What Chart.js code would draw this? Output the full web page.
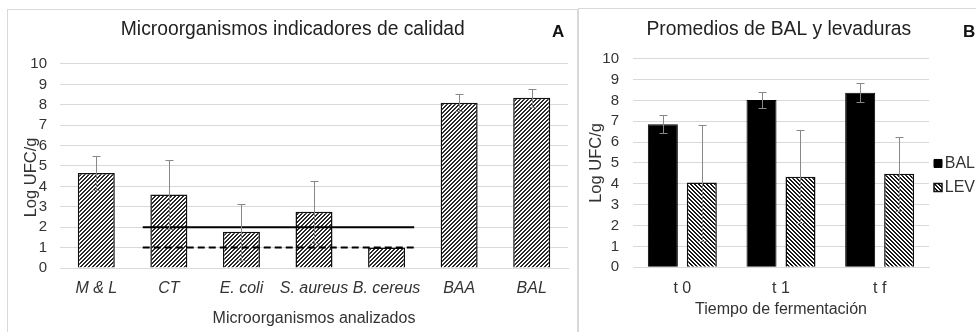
<!DOCTYPE html>
<html>
<head>
<meta charset="utf-8">
<script src="https://cdn.jsdelivr.net/npm/chart.js@4.4.0/dist/chart.umd.min.js"></script>
<style>
body { margin: 0; background: #fff; width: 976px; height: 332px; overflow: hidden; position: relative; font-family: "Liberation Sans", Arial, sans-serif; }
.panel { position: absolute; border: 1px solid #d9d9d9; background: #fff; }
#panelA { left: 7px; top: 9px; width: 569px; height: 330px; }
#panelB { left: 578px; top: 8px; width: 400px; height: 330px; }
.panel canvas { position: absolute; left: 0; top: 0; }
.tag { position: absolute; font-weight: bold; font-size: 17px; color: #111; }
</style>
</head>
<body>
<div class="panel" id="panelA">
    <canvas id="chartA" width="569" height="322"></canvas>
    <div class="tag" style="left:544px;top:12px">A</div>
</div>
<div class="panel" id="panelB">
    <canvas id="chartB" width="398" height="323"></canvas>
    <div class="tag" style="left:384px;top:13px">B</div>
</div>
<script>
// panel A data
var catsA = ['M & L', 'CT', 'E. coli', 'S. aureus', 'B. cereus', 'BAA', 'BAL'];
var valsA = [4.65, 3.6, 1.78, 2.76, 1.0, 8.1, 8.35];
var errA = [0.85, 1.68, 1.37, 1.52, 0, 0.41, 0.44];
// limit lines (y value, from / to in category index units)
var limitSolid = 2;
var limitDashed = 1;
var limitFrom = 0.64;
var limitTo = 4.38;

// panel B data
var catsB = ['t 0', 't 1', 't f'];
var balVals = [6.86, 8.02, 8.37];
var balErr = [0.43, 0.39, 0.44];
var levVals = [4.06, 4.34, 4.48];
var levErr = [2.78, 2.24, 1.78];

var yTicks = [0, 1, 2, 3, 4, 5, 6, 7, 8, 9, 10];

Chart.defaults.font.family = '"Liberation Sans", Arial, sans-serif';
Chart.defaults.color = '#333';

function hatch(dir, dark, light) {
    var c = document.createElement('canvas');
    c.width = 4;
    c.height = 4;
    var g = c.getContext('2d');
    g.fillStyle = light;
    g.fillRect(0, 0, 4, 4);
    g.fillStyle = dark;
    for (var yy = 0; yy < 4; yy++) {
        for (var xx = 0; xx < 4; xx++) {
            var k = dir > 0 ? (xx + yy) % 4 : (xx - yy + 4) % 4;
            if (k < 2) g.fillRect(xx, yy, 1, 1);
        }
    }
    return g.createPattern(c, 'repeat');
}

var errorBars = {
    id: 'errorBars',
    afterDatasetsDraw: function(chart) {
        var ctx = chart.ctx;
        var y = chart.scales.y;
        chart.data.datasets.forEach(function(ds, i) {
            if (!ds.errors) return;
            var meta = chart.getDatasetMeta(i);
            meta.data.forEach(function(bar, j) {
                var e = ds.errors[j];
                if (!e) return;
                var v = ds.data[j];
                var top = Math.round(y.getPixelForValue(v + e)) + 0.5;
                var bot = Math.round(y.getPixelForValue(v - e)) + 0.5;
                var x = Math.round(bar.x) + 0.5;
                ctx.save();
                ctx.strokeStyle = '#888';
                ctx.lineWidth = 1;
                ctx.beginPath();
                ctx.moveTo(x, top);
                ctx.lineTo(x, bot);
                ctx.moveTo(x - 4, top);
                ctx.lineTo(x + 4, top);
                ctx.moveTo(x - 4, bot);
                ctx.lineTo(x + 4, bot);
                ctx.stroke();
                ctx.restore();
            });
        });
    }
};

function yAxis(width, pad, title) {
    return {
        min: 0,
        max: 10,
        afterBuildTicks: function(s) {
            s.ticks = yTicks.map(function(v) { return { value: v }; });
        },
        afterFit: function(s) { s.width = width; },
        ticks: { font: { size: 15 }, padding: pad, color: '#333', autoSkip: false },
        grid: { color: '#d9d9d9', drawTicks: false },
        border: { display: false },
        title: { display: true, text: title, font: { size: 16.5 }, color: '#333', padding: { top: 4, bottom: 4 } }
    };
}

function xAxis(height, labelPad, titleBottom, title, italic) {
    return {
        afterFit: function(s) { s.height = height; },
        ticks: { font: { size: 16, style: italic ? 'italic' : 'normal' }, padding: labelPad, color: '#333', maxRotation: 0, autoSkip: false },
        grid: { display: false, drawTicks: false },
        border: { color: '#d9d9d9' },
        title: { display: true, text: title, font: { size: 16 }, color: '#333', padding: { top: 4, bottom: titleBottom } }
    };
}

new Chart(document.getElementById('chartA'), {
    type: 'bar',
    data: {
        labels: catsA,
        datasets: [{
            data: valsA,
            errors: errA,
            backgroundColor: hatch(1, '#2b2b2b', '#ffffff'),
            borderColor: '#111',
            borderWidth: 1.5,
            barPercentage: 0.51,
            categoryPercentage: 1,
            grouped: false,
            order: 1
        }, {
            type: 'line',
            xAxisID: 'x2',
            data: [{ x: limitFrom, y: limitSolid }, { x: limitTo, y: limitSolid }],
            borderColor: '#000',
            borderWidth: 2,
            pointRadius: 0,
            order: 0
        }, {
            type: 'line',
            xAxisID: 'x2',
            data: [{ x: limitFrom, y: limitDashed }, { x: limitTo, y: limitDashed }],
            borderColor: '#000',
            borderWidth: 2,
            borderDash: [7, 4],
            pointRadius: 0,
            order: 0
        }]
    },
    options: {
        responsive: false,
        animation: false,
        layout: { padding: { left: 9.6, right: 9, top: 0, bottom: 0 } },
        plugins: {
            legend: { display: false },
            tooltip: { enabled: false },
            title: {
                display: true,
                text: 'Microorganismos indicadores de calidad',
                font: { size: 19.3, weight: 'normal' },
                color: '#222',
                padding: { top: 8.4, bottom: 22.4 }
            }
        },
        scales: {
            x: xAxis(64, 10.5, 3.4, 'Microorganismos analizados', true),
            x2: { type: 'linear', min: -0.5, max: 6.5, offset: false, display: false },
            // trailing spaces keep the title a bit below the middle, as in the original
            y: yAxis(42.4, 13, 'Log UFC/g     ')
        }
    },
    plugins: [errorBars]
});

new Chart(document.getElementById('chartB'), {
    type: 'bar',
    data: {
        labels: catsB,
        datasets: [{
            label: ['BAL'],
            data: balVals,
            errors: balErr,
            backgroundColor: '#000',
            borderColor: '#000',
            borderWidth: 1,
            barPercentage: 0.77,
            categoryPercentage: 0.79
        }, {
            label: ['LEV'],
            data: levVals,
            errors: levErr,
            backgroundColor: hatch(-1, '#1a1a1a', '#ffffff'),
            borderColor: '#111',
            borderWidth: 1.5,
            barPercentage: 0.77,
            categoryPercentage: 0.79
        }]
    },
    options: {
        responsive: false,
        animation: false,
        layout: { padding: { left: 3.6, right: 2, top: 0, bottom: 0 } },
        plugins: {
            tooltip: { enabled: false },
            title: {
                display: true,
                text: 'Promedios de BAL y levaduras',
                font: { size: 19.3, weight: 'normal' },
                color: '#222',
                padding: { top: 9.4, bottom: 17.1 }
            },
            legend: {
                position: 'right',
                align: 'start',
                fullSize: false,
                maxWidth: 46,
                title: { display: true, text: ' ', font: { size: 12 }, padding: 38.7 },
                labels: { boxWidth: 8, boxHeight: 8, padding: 5, textAlign: 'right', font: { size: 16, lineHeight: '19px' }, color: '#333' }
            }
        },
        scales: {
            x: xAxis(64.7, 11.2, 12.4, 'Tiempo de fermentación', false),
            y: yAxis(50.4, 14, 'Log UFC/g')
        }
    },
    plugins: [errorBars]
});
</script>
</body>
</html>
